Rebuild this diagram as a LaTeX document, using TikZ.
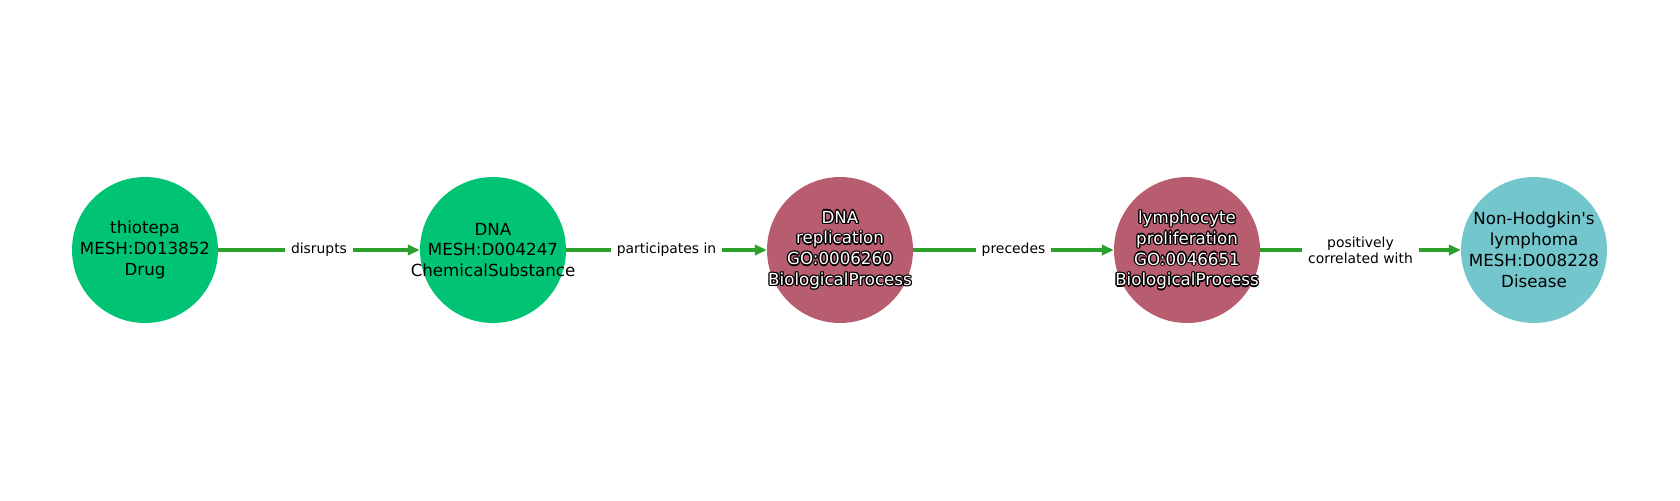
\documentclass[tikz,border=0pt]{standalone}
\usepackage{fontspec}
\setmainfont{DejaVu Sans}[Ligatures=TeXOff]
\usetikzlibrary{arrows.meta}
\definecolor{nGreen}{RGB}{0,196,115}
\definecolor{nRed}{RGB}{184,92,111}
\definecolor{nTeal}{RGB}{114,198,204}
\definecolor{eGreen}{RGB}{44,160,44}
\tikzset{
  ent/.style={circle, inner sep=0pt, minimum size=105.1pt, draw=none},
  ntext/.style={align=center, font=\fontsize{12}{15}\selectfont, inner sep=0pt},
  edge/.style={draw=eGreen, line width=3pt, -{Triangle[length=8.6pt,width=7.4pt]}},
  elabel/.style={fill=white, align=center, font=\fontsize{10}{11.5}\selectfont, text=black, inner xsep=4.3pt, inner ysep=2pt},
}
\newcommand{\outlinedtext}[3]{%
  \foreach \dx/\dy in {0.95/0,-0.95/0,0/0.95,0/-0.95,0.67/0.67,-0.67/0.67,0.67/-0.67,-0.67/-0.67}{
    \node[ntext, text=black] at ([xshift=\dx pt,yshift=\dy pt]#1) {#3};
  }
  \node[ntext, text=white] (#2) at (#1) {#3};
}
\begin{document}
\begin{tikzpicture}[x=0.72pt, y=-0.72pt]
  \useasboundingbox (0,0) rectangle (1680,500);
  \node[ent, fill=nGreen] (n1) at (145,250) {};
  \node[ent, fill=nGreen] (n2) at (493,250) {};
  \node[ent, fill=nRed]   (n3) at (840,250) {};
  \node[ent, fill=nRed]   (n4) at (1187,250) {};
  \node[ent, fill=nTeal]  (n5) at (1534,250) {};
  \node[ntext] (t1) at (n1.center) {thiotepa\\MESH:D013852\\Drug};
  \node[ntext] (t2) at (n2.center) {DNA\\MESH:D004247\\ChemicalSubstance};
  \outlinedtext{n3.center}{t3}{DNA\\replication\\GO:0006260\\BiologicalProcess}
  \outlinedtext{n4.center}{t4}{lymphocyte\\proliferation\\GO:0046651\\BiologicalProcess}
  \node[ntext] (t5) at (n5.center) {Non-Hodgkin's\\lymphoma\\MESH:D008228\\Disease};
  \draw[edge] (n1) -- node[elabel] (l1) {disrupts} (n2);
  \draw[edge] (n2) -- node[elabel] (l2) {participates in} (n3);
  \draw[edge] (n3) -- node[elabel] (l3) {precedes} (n4);
  \draw[edge] (n4) -- node[elabel] (l4) {positively\\correlated with} (n5);
\end{tikzpicture}
\end{document}
